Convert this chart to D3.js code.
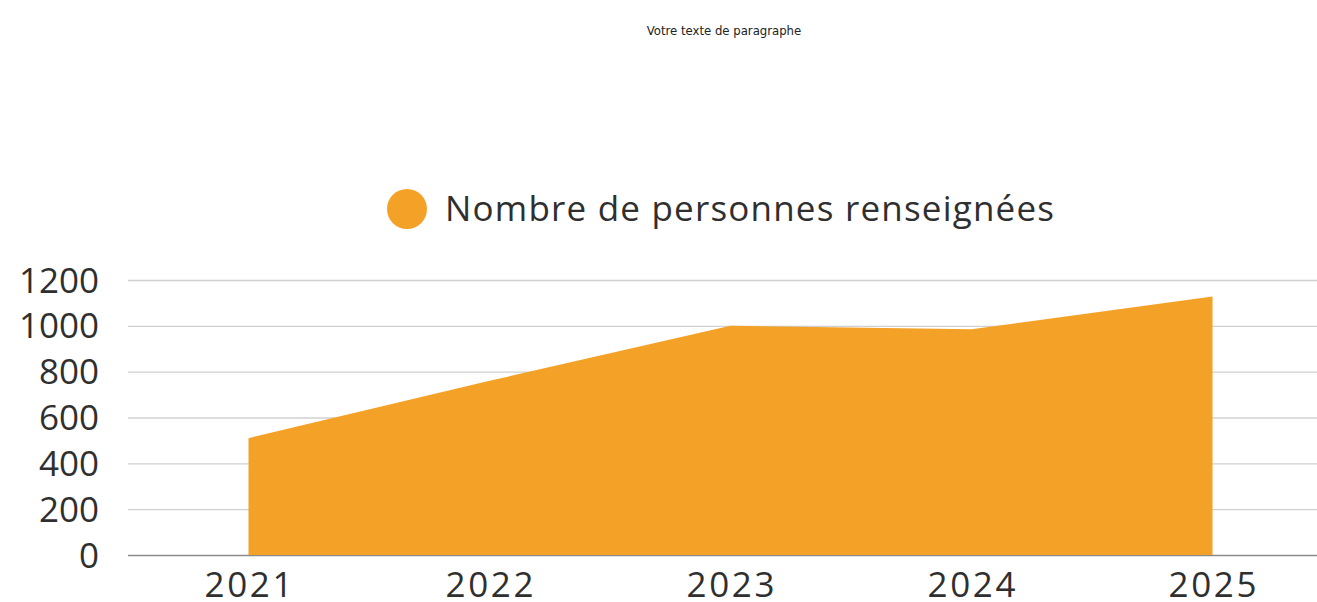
<!DOCTYPE html>
<html>
<head>
<meta charset="utf-8">
<script src="https://cdn.jsdelivr.net/npm/d3@7"></script>
<style>
  body { margin: 0; background: #fff; }
  svg { display: block; }
</style>
</head>
<body>
<div id="chart"></div>
<script>
const years = ["2021", "2022", "2023", "2024", "2025"]
const personnes = [510, 760, 1000, 985, 1128]
const yTicks = [0, 200, 400, 600, 800, 1000, 1200]
const seriesName = "Nombre de personnes renseignées"
const pageTitle = "Votre texte de paragraphe"

const width = 1317, height = 602
const margin = ({ top: 280, right: 0, bottom: 47, left: 128 })
const orange = "#f4a227"
const font = "'Open Sans', sans-serif"

const svg = d3.select("#chart").append("svg")
    .attr("width", width)
    .attr("height", height)

// band scale wider than the visible area (the chart runs off the right edge)
const x = d3.scaleBand()
    .domain(years)
    .range([margin.left, margin.left + 241 * years.length])

const y = d3.scaleLinear()
    .domain([0, 1200])
    .range([height - margin.bottom, margin.top])

// grid
svg.append("g")
    .selectAll("line")
    .data(yTicks)
    .join("line")
    .attr("x1", margin.left)
    .attr("x2", width)
    .attr("y1", d => y(d) + 0.5)
    .attr("y2", d => y(d) + 0.5)
    .attr("stroke", d => d === 0 ? "#8a8a8a" : "#d0d0d0")
    .attr("stroke-width", 1.3)

const cx = d => x(d) + x.bandwidth() / 2

const area = d3.area()
    .x((d, i) => cx(years[i]))
    .y0(y(0))
    .y1(d => y(d))

svg.append("path")
    .datum(personnes)
    .attr("fill", orange)
    .attr("d", area)

// y axis labels
svg.append("g")
    .selectAll("text")
    .data(yTicks)
    .join("text")
    .attr("x", 99)
    .attr("y", d => y(d))
    .attr("dy", "0.36em")
    .attr("text-anchor", "end")
    .attr("font-family", font)
    .attr("font-size", 35)
    .attr("fill", "#2f2f2f")
    .text(d => d)

// x axis labels
svg.append("g")
    .selectAll("text")
    .data(years)
    .join("text")
    .attr("x", d => cx(d) + 1.3)
    .attr("y", 597)
    .attr("text-anchor", "middle")
    .attr("font-family", font)
    .attr("font-size", 35)
    .attr("letter-spacing", 2.6)
    .attr("fill", "#2f2f2f")
    .text(d => d)

// legend
const legend = svg.append("g")
legend.append("circle")
    .attr("cx", 407)
    .attr("cy", 209)
    .attr("r", 20)
    .attr("fill", orange)
legend.append("text")
    .attr("x", 445)
    .attr("y", 209)
    .attr("dy", "0.35em")
    .attr("font-family", font)
    .attr("font-size", 35)
    .attr("letter-spacing", 1.2)
    .attr("fill", "#2f2f2f")
    .text(seriesName)

// title
svg.append("text")
    .attr("x", 724)
    .attr("y", 35)
    .attr("text-anchor", "middle")
    .attr("font-family", "'DejaVu Sans Condensed', 'Liberation Sans Narrow', sans-serif")
    .attr("font-stretch", "condensed")
    .attr("font-size", 13)
    .attr("fill", "#222")
    .text(pageTitle)
</script>
</body>
</html>
